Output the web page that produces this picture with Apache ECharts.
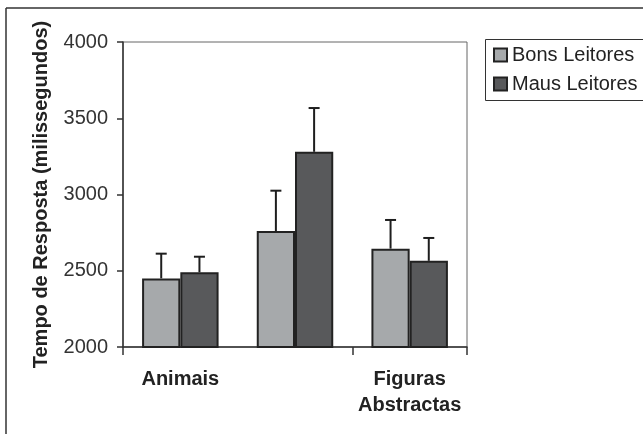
<!DOCTYPE html>
<html>
<head>
<meta charset="utf-8">
<script src="https://cdn.jsdelivr.net/npm/echarts@6/dist/echarts.min.js"></script>
<style>
  html, body { margin: 0; padding: 0; background: #fff; }
  #chart { width: 643px; height: 434px; }
</style>
</head>
<body>
<div id="chart"></div>
<script>
// data
const categories = ['Animais', '', 'Figuras\nAbstractas'];
const seriesNames = ['Bons Leitores', 'Maus Leitores'];
const bons = [2450, 2760, 2645];
const maus = [2490, 3280, 2565];
const bonsErr = [162, 265, 188];
const mausErr = [102, 287, 150];
const yTicks = { min: 2000, max: 4000, interval: 500 };

const font = '"Liberation Sans", Arial, sans-serif';
const colors = ['#a6a9ab', '#58595b'];

const chart = echarts.init(document.getElementById('chart'), null, { renderer: 'canvas' });

// error bar drawn from the top of its bar, shifted to the bar's centre
function errorSeries(values, errs, side) {
  return {
    type: 'custom',
    name: 'err' + side,
    z: 5,
    silent: true,
    encode: { x: 0, y: [1, 2] },
    data: values.map((v, i) => [i, v, v + errs[i]]),
    renderItem: function (params, api) {
      const band = api.size([1, 0])[0];
      const off = side * band / 6;
      const base = api.coord([api.value(0), api.value(1)]);
      const top = api.coord([api.value(0), api.value(2)]);
      const x = base[0] + off;
      const style = { stroke: '#1e1e1e', lineWidth: 2 };
      return {
        type: 'group',
        children: [
          { type: 'line', shape: { x1: x, y1: base[1], x2: x, y2: top[1] }, style: style },
          { type: 'line', shape: { x1: x - 5.5, y1: top[1], x2: x + 5.5, y2: top[1] }, style: style }
        ]
      };
    }
  };
}

chart.setOption({
  animation: false,
  backgroundColor: '#fff',
  grid: {
    left: 123, right: 176, top: 42, bottom: 87,
    show: true, borderColor: '#666', borderWidth: 1
  },
  legend: {
    data: seriesNames.map(n => ({ name: n, icon: 'rect' })),
    orient: 'vertical',
    left: 486, top: 39,
    padding: [6, 0, 6, 7],
    itemGap: 9,
    itemWidth: 13, itemHeight: 13,
    textStyle: { fontFamily: font, fontSize: 20, color: '#222' }
  },
  xAxis: {
    type: 'category',
    data: categories,
    axisLine: { lineStyle: { color: '#333', width: 1.5 } },
    axisTick: { show: true, length: 8, lineStyle: { color: '#333', width: 1.5 } },
    axisLabel: {
      margin: 19, fontFamily: font, fontSize: 20, fontWeight: 'bold',
      color: '#222', lineHeight: 26
    }
  },
  yAxis: {
    type: 'value',
    min: yTicks.min, max: yTicks.max, interval: yTicks.interval,
    name: 'Tempo de Resposta (milissegundos)',
    nameLocation: 'middle',
    nameGap: 72,
    nameTextStyle: { fontFamily: font, fontSize: 20, fontWeight: 'bold', color: '#222' },
    axisLine: { show: true, lineStyle: { color: '#333', width: 1.5 } },
    axisTick: { show: true, length: 6, lineStyle: { color: '#333', width: 1.5 } },
    axisLabel: {
      margin: 15, fontFamily: font, fontSize: 20, color: '#333',
      formatter: v => String(v)
    },
    splitLine: { show: false }
  },
  series: [
    {
      name: seriesNames[0], type: 'bar', data: bons,
      barGap: '0%', barCategoryGap: '33.3%',
      itemStyle: { color: colors[0], borderColor: '#222', borderWidth: 2 }
    },
    {
      name: seriesNames[1], type: 'bar', data: maus,
      barGap: '0%', barCategoryGap: '33.3%',
      itemStyle: { color: colors[1], borderColor: '#222', borderWidth: 2 }
    },
    errorSeries(bons, bonsErr, -1),
    errorSeries(maus, mausErr, 1)
  ],
  graphic: [
    { type: 'line', shape: { x1: 6, y1: 8, x2: 643, y2: 8 }, style: { stroke: '#333', lineWidth: 1.5 } },
    { type: 'line', shape: { x1: 6, y1: 8, x2: 6, y2: 434 }, style: { stroke: '#333', lineWidth: 1.5 } },
    // legend frame runs off the right edge of the picture
    { type: 'rect', shape: { x: 485.5, y: 39.5, width: 220, height: 61 },
      style: { fill: null, stroke: '#333', lineWidth: 1 }, z: 1 }
  ]
});
</script>
</body>
</html>
